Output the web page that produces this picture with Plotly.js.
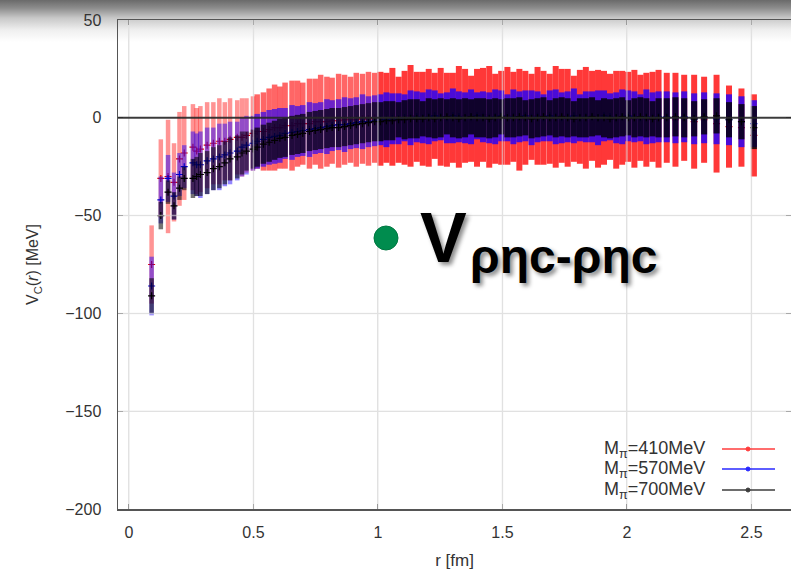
<!DOCTYPE html>
<html>
<head>
<meta charset="utf-8">
<script src="https://cdn.plot.ly/plotly-3.0.1.min.js"></script>
<style>
  html, body { margin:0; padding:0; }
  body { width:791px; height:575px; overflow:hidden;
    background: linear-gradient(to bottom, #6a6a6a 0px, #8c8c8c 8px, #c8c8c8 18px, #efefef 30px, #ffffff 42px); }
  #chart { width:791px; height:575px; }
</style>
</head>
<body>
<div id="chart"></div>
<script>
// r [fm]
const r = [
  0.091,0.128,0.157,0.181,0.203,0.222,0.257,0.272,0.287,
  0.314,0.339,0.363,0.385,0.406,0.435,0.454,0.472,0.498,
  0.515,0.540,0.563,0.585,0.606,0.627,0.655,0.677,0.698,0.725,
  0.748,0.770,0.795,0.816,0.842,0.866,0.890,0.913,0.938,0.962,0.987,
  1.010,1.034,1.058,1.083,1.107,1.131,1.156,1.180,1.204,1.228,
  1.252,1.277,1.301,1.325,1.350,1.374,1.398,1.422,1.447,1.471,
  1.495,1.520,1.544,1.568,1.592,1.617,1.641,1.665,1.690,1.714,
  1.738,1.762,1.787,1.811,1.835,1.860,1.884,1.908,1.932,1.957,
  1.981,2.005,2.030,2.054,2.078,2.103,2.127,
  2.160,2.195,2.230,2.270,2.310,2.360,2.410,2.460,2.510
];

// M_pi = 410 MeV
const v410 = [
  -75,-31,-30,-33,-21,-18,-15,-17,-16,
  -14,-13,-12,-12,-11,-10,-10,-9,-8,
  -7,-7,-6,-5,-5,-4,-4,-3,-3,-3,
  -2,-2,-2,-1.5,-1.5,-1,-1,-1,-0.5,-0.5,0,
  -0.5,0,0.5,-1,0,1,0.5,-0.5,0,1,
  0.5,-1,0,0.5,1,-0.5,0,1.5,0.5,-0.5,
  0,1,0.5,-1,0,0.5,1,0,-0.5,0.5,
  1,0,-0.5,0.5,0,1,-0.5,0,0.5,-1,
  0,0.5,-0.5,0,-1,0.5,-0.5,
  0,-1,0,-2,-1,-3,-4.5,-5,-9
];
const e410 = [
  20,20,29,20,24,24,22,22,22,
  22,21,22,20,21,19,20,19,19,
  19,20,21,22,21,22,23,22,21,23,
  22,24,23,22,24,23,22,24,23,24,23,
  24,23,25,22,24,26,23,24,25,22,
  25,24,23,26,24,22,25,24,26,23,
  24,25,23,26,24,22,25,24,23,26,
  24,25,22,24,26,23,25,24,22,25,
  24,23,25,22,24,23,25,
  23,24,22,24,22,25,21,20,21
];

// M_pi = 570 MeV
const v570 = [
  -86,-42,-31,-40,-29,-25,-23,-24,-24,
  -22,-21,-20,-19,-18,-17,-15,-14,-13,
  -12,-11,-10,-9.5,-9,-8,-7.5,-7,-6.5,-6,
  -5.5,-5,-4.5,-4,-3.5,-3.5,-3,-2.5,-2,-2,-1.5,
  -1,-1,-0.5,-0.5,0,0,0.5,0,0.5,1,
  0.5,0,1,0.5,0,0.5,1,0.5,0,0.5,
  1,0,0.5,0.5,1,0,0.5,0,1,0.5,
  0,0.5,1,0,0.5,0.5,0,1,0.5,0,
  0.5,1,0.5,0,0.5,0,0.5,
  0.5,0,0.5,-0.5,0,-0.5,-1,-2,-3
];
const e570 = [
  15,12,12,12,11,11,16,16,17,
  17,16,17,16,16,15,15,15,14,
  14,14,14,14,14,13,14,13,13,14,
  13,13,14,13,13,14,13,13,14,13,13,
  13,14,13,13,12,14,13,13,14,13,
  12,13,14,13,13,14,12,13,13,14,
  13,12,14,13,13,14,13,12,13,14,
  13,13,14,12,13,13,14,13,12,13,
  14,13,13,12,14,13,13,
  13,13,13,13,13,13,13,13,12
];

// M_pi = 700 MeV
const v700 = [
  -91,-50,-38,-45,-36,-31,-31,-30,-29,
  -28,-26,-25,-23,-21,-20,-18,-17,-16,
  -15,-13.5,-12.5,-11.5,-10.5,-10,-9,-8.5,-8,-7,
  -6.5,-6,-5.5,-5,-5,-4.5,-4,-3.5,-3,-2.5,-2,
  -2,-1.5,-1.5,-1,-1,-0.5,-0.5,-0.5,0,-0.5,
  0,0.5,0,-0.5,0,0.5,0,0,-0.5,0,
  0.5,0,0,0.5,0,-0.5,0,0.5,0,0,
  0.5,0,-0.5,0,0,0.5,0,0,-0.5,0,
  0.5,0,0,0.5,0,-0.5,0,
  0,0.5,0,-0.5,0.5,1,-1,-2,-5
];
const e700 = [
  9,7,6,7,6,6,10,10,11,
  11,11,11,11,11,11,11,10,10,
  10,10,10,10,10,10,10,10,10,10,
  10,10,10,10,10,10,10,10,10,10,10,
  10,10,10,9,10,10,10,9,10,10,
  10,9,10,10,10,9,10,10,10,10,
  9,10,10,10,9,10,10,10,9,10,
  10,10,9,10,10,10,9,10,10,10,
  10,9,10,10,10,9,10,
  10,10,10,9,9,9,9,9,11
];

const legendLabels = ["M<sub>π</sub>=410MeV", "M<sub>π</sub>=570MeV", "M<sub>π</sub>=700MeV"];
const xTicks = [0, 0.5, 1, 1.5, 2, 2.5];
const xTickText = ["0", "0.5", "1", "1.5", "2", "2.5"];
const yTicks = [-200, -150, -100, -50, 0, 50];

const series = [
  {y: v410, e: e410, rgb: "255,0,0", alphas: [0.42, 0.6, 0.78], mk: "rgb(220,0,0)"},
  {y: v570, e: e570, rgb: "30,0,255", alphas: [0.48, 0.65, 0.8], mk: "rgb(0,0,200)"},
  {y: v700, e: e700, rgb: "0,0,0", alphas: [0.55, 0.7, 0.8], mk: "rgb(0,0,0)"}
];

// sparser inner points look lighter; the dense outer region is saturated
const segs = [[0, 18, 4.5], [18, 39, 5.5], [39, r.length, 6]];
const traces = [];
series.forEach(s => {
  segs.forEach(([a, b, th], k) => {
    traces.push({
      type: "scatter", mode: "markers", x: r.slice(a, b), y: s.y.slice(a, b), showlegend: false,
      marker: {symbol: "cross-thin", size: 5, color: s.mk, line: {width: 1.2, color: s.mk}},
      error_y: {type: "data", array: s.e.slice(a, b), visible: true,
        color: "rgba(" + s.rgb + "," + s.alphas[k] + ")", thickness: th, width: 0},
      hoverinfo: "skip"
    });
  });
});

// plot area in pixels: left 118, right 791, top 20, bottom 509
const L = 118, R = 791, T = 20, B = 509;
const px = v => (v - L) / (R - L);
const py = v => (B - v) / (B - T);

const shapes = [];
// grid lines drawn in front of the data (gnuplot "grid front")
xTicks.forEach(t => shapes.push({type: "line", xref: "x", yref: "paper", x0: t, x1: t, y0: 0, y1: 1,
  line: {color: "rgba(225,225,225,0.6)", width: 1.5}, layer: "above"}));
yTicks.slice(1, 4).forEach(t => shapes.push({type: "line", xref: "paper", yref: "y", x0: 0, x1: 1, y0: t, y1: t,
  line: {color: "rgba(225,225,225,0.6)", width: 1.5}, layer: "above"}));
// zero line
shapes.push({type: "line", xref: "paper", yref: "y", x0: 0, x1: 1, y0: 0, y1: 0,
  line: {color: "rgba(40,40,40,0.9)", width: 2}, layer: "above"});
// legend samples
const legColors = ["rgb(255,60,60)", "rgb(40,40,255)", "rgb(60,60,60)"];
const legY = [449, 469, 490];
legY.forEach((yy, i) => {
  shapes.push({type: "line", xref: "paper", yref: "paper", x0: px(722), x1: px(775), y0: py(yy), y1: py(yy),
    line: {color: legColors[i], width: 1.3}, layer: "above"});
  shapes.push({type: "circle", xref: "paper", yref: "paper", x0: px(746), x1: px(750), y0: py(yy + 2), y1: py(yy - 2),
    line: {color: legColors[i], width: 1}, fillcolor: legColors[i], layer: "above"});
});
// green bullet
shapes.push({type: "circle", xref: "paper", yref: "paper", x0: px(374), x1: px(398), y0: py(250), y1: py(226),
  fillcolor: "rgb(0,140,78)", line: {color: "rgb(0,120,66)", width: 1}, layer: "above"});

const annotations = [];
legY.forEach((yy, i) => annotations.push({xref: "paper", yref: "paper", x: px(707), y: py(yy),
  xanchor: "right", yanchor: "middle", showarrow: false, text: legendLabels[i],
  font: {family: "Liberation Sans, Arial, sans-serif", size: 18, color: "#333"}}));
annotations.push({xref: "paper", yref: "paper", x: px(418), y: py(238), xanchor: "left", yanchor: "middle",
  showarrow: false, text: "<b>V</b>",
  font: {family: "Liberation Sans, Arial, sans-serif", size: 70, color: "#000", shadow: "3px 3px 4px rgba(0,0,0,0.45)"}});
annotations.push({xref: "paper", yref: "paper", x: px(468), y: py(256), xanchor: "left", yanchor: "middle",
  showarrow: false, text: "<b>ρηc-ρηc</b>",
  font: {family: "Liberation Sans, Arial, sans-serif", size: 48, color: "#000", shadow: "3px 3px 4px rgba(0,0,0,0.45)"}});

const axisFont = {family: "Liberation Sans, Arial, sans-serif", size: 16, color: "#333"};

const layout = {
  width: 791, height: 575,
  margin: {l: L, r: 0, t: T, b: 575 - B, pad: 0},
  paper_bgcolor: "rgba(0,0,0,0)", plot_bgcolor: "rgba(0,0,0,0)",
  showlegend: false,
  xaxis: {
    range: [-0.044, 2.659], tickvals: xTicks, ticktext: xTickText,
    ticks: "inside", ticklen: 5, tickcolor: "#555", mirror: "ticks",
    showline: true, linecolor: "#555", linewidth: 1.5,
    showgrid: true, gridcolor: "#e2e2e2", gridwidth: 1, zeroline: false,
    tickfont: axisFont, ticklabelstandoff: 8,
    title: {text: "r [fm]", font: {family: "Liberation Sans, Arial, sans-serif", size: 17, color: "#333"}, standoff: 14}
  },
  yaxis: {
    range: [-200, 50], tickvals: yTicks,
    ticks: "inside", ticklen: 5, tickcolor: "#555", mirror: "ticks",
    showline: true, linecolor: "#555", linewidth: 1.5,
    showgrid: true, gridcolor: "#e2e2e2", gridwidth: 1, zeroline: false,
    tickfont: axisFont, ticklabelstandoff: 12,
    title: {text: "V<sub>C</sub>(<i>r</i>) [MeV]", font: {family: "Liberation Sans, Arial, sans-serif", size: 16, color: "#333"}, standoff: 22}
  },
  shapes: shapes,
  annotations: annotations
};

Plotly.newPlot("chart", traces, layout, {staticPlot: true, displayModeBar: false});
</script>
</body>
</html>
